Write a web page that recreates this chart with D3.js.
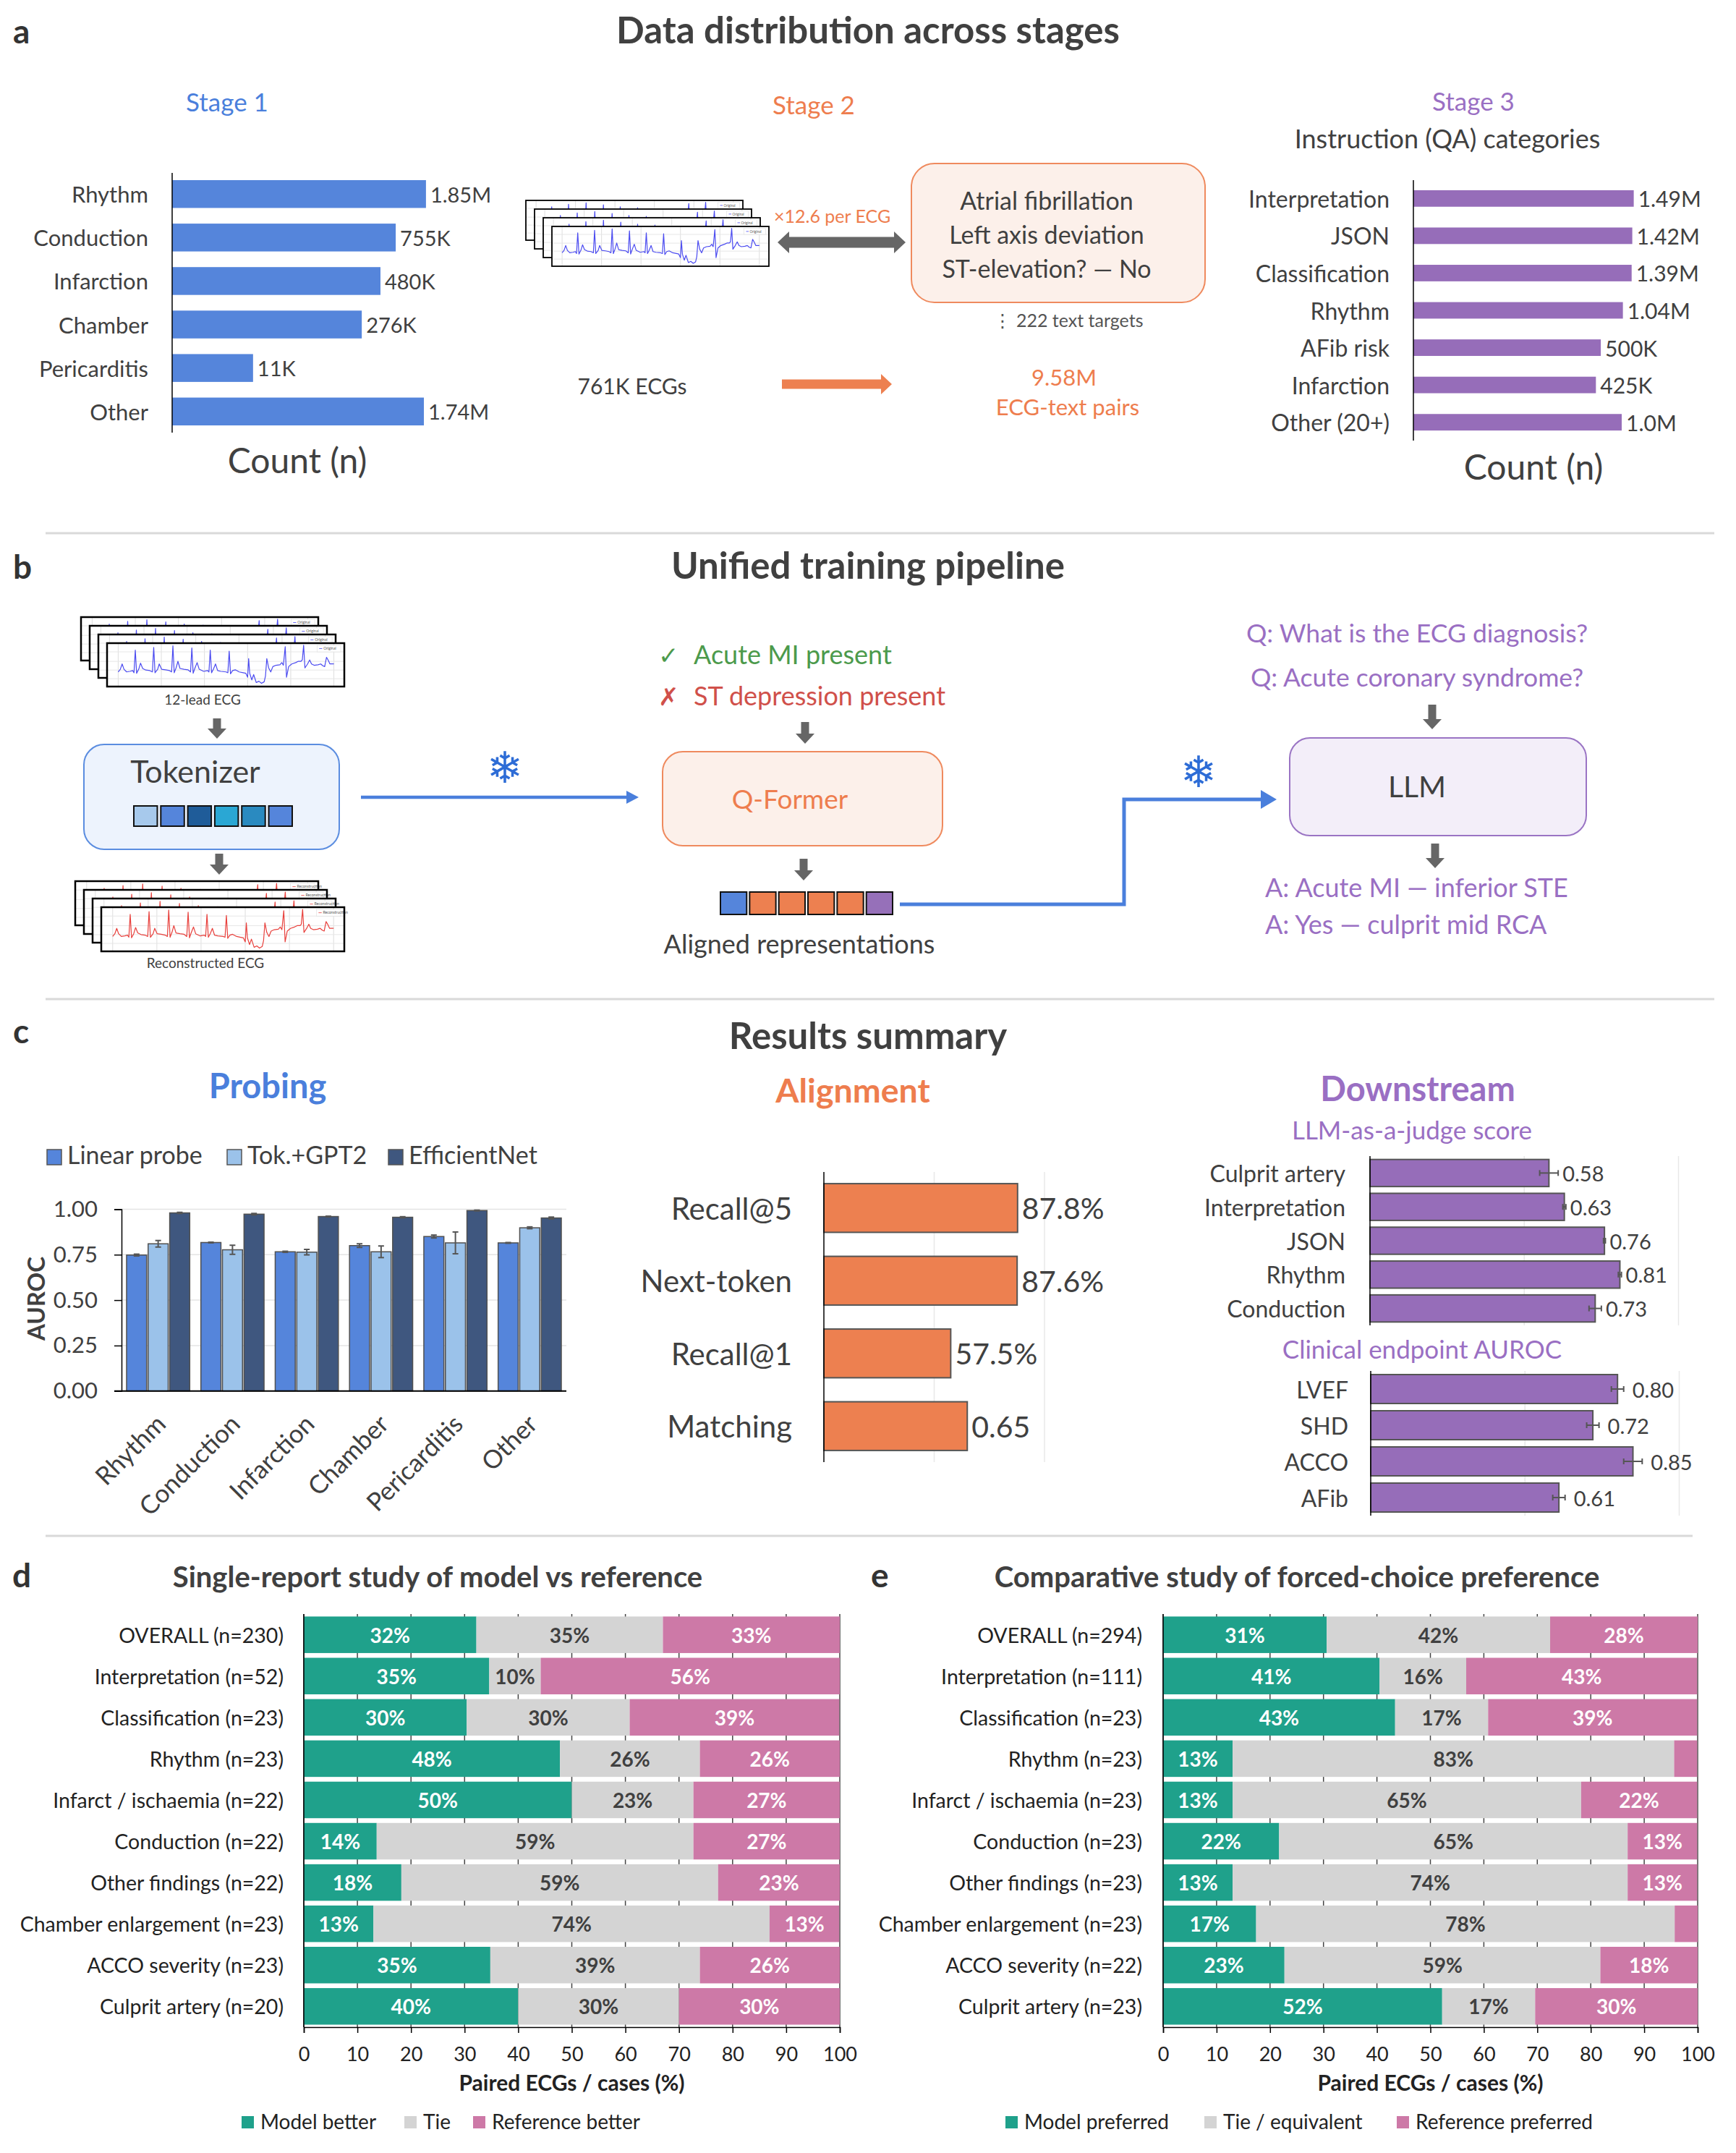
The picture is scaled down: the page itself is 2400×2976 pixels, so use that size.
<!DOCTYPE html>
<html><head><meta charset="utf-8">
<script src="https://cdn.jsdelivr.net/npm/d3@7"></script>
<style>body{margin:0;background:#fff}svg{display:block}</style>
</head><body>
<svg id="fig" width="2400" height="2976" xmlns="http://www.w3.org/2000/svg"></svg>
<script>
// ================= DATA =================
const stage1Categories = ["Rhythm","Conduction","Infarction","Chamber","Pericarditis","Other"];
const stage1Counts = [1850000,755000,480000,276000,11000,1740000];
const stage1Labels = ["1.85M","755K","480K","276K","11K","1.74M"];

const stage2Examples = ["Atrial fibrillation","Left axis deviation","ST-elevation? — No"];

const stage3Categories = ["Interpretation","JSON","Classification","Rhythm","AFib risk","Infarction","Other (20+)"];
const stage3Counts = [1490000,1420000,1390000,1040000,500000,425000,1000000];
const stage3Labels = ["1.49M","1.42M","1.39M","1.04M","500K","425K","1.0M"];

// illustrative ECG strip (time units, amplitude units)
const ecgTime = [0,8,15,22,32,45,55,60,65,70,78,85,93,105,120,130,135,140,150,156,165,180,195,203,208,213,220,227,235,250,265,275,280,285,292,300,308,325,340,345,350,355,362,370,378,390,410,417,422,427,435,445,460,475,485,492,496,500,508,515,525,535,545,555,560,565,572,580,588,600,615,622,628,635,640,648,660,675,685,695,700,705,710,720,728,735,745,760,770,778,785,792,798,805,815,820];
const ecgAmp = [-5,5,25,5,-5,-3,0,-8,77,-10,5,28,8,2,0,-5,87,-8,5,25,5,3,0,-5,93,-8,10,35,8,5,3,-5,85,-10,10,30,5,-3,0,-5,77,-8,5,25,0,-3,-5,-8,73,-12,0,3,-5,-8,-10,-25,45,-10,-35,-15,-45,-40,-48,-42,-20,45,10,-5,15,20,22,30,20,90,-25,15,25,30,35,35,40,95,10,25,40,25,20,22,25,18,15,50,40,25,25,25];

const tokenizerTokens = ["#a7c9ec","#5585db","#1f5c99","#2aa7d4","#2a8ac0","#5585db"];
const alignedTokens = ["#5585db","#ed8050","#ed8050","#ed8050","#ed8050","#9670b9"];

const probeCategories = ["Rhythm","Conduction","Infarction","Chamber","Pericarditis","Other"];
const probeSeries = ["Linear probe","Tok.+GPT2","EfficientNet"];
const probeLinear = [0.748,0.817,0.766,0.800,0.850,0.815];
const probeLinearErr = [0.005,0.002,0.003,0.010,0.008,0.002];
const probeTokGPT2 = [0.810,0.777,0.764,0.766,0.815,0.898];
const probeTokGPT2Err = [0.018,0.025,0.015,0.032,0.060,0.005];
const probeEfficientNet = [0.980,0.973,0.960,0.956,0.993,0.952];
const probeEfficientNetErr = [0.003,0.004,0.002,0.003,0.002,0.005];
const probeTicks = [0,0.25,0.5,0.75,1.0];

const alignMetrics = ["Recall@5","Next-token","Recall@1","Matching"];
const alignValues = [87.8,87.6,57.5,65];
const alignLabels = ["87.8%","87.6%","57.5%","0.65"];

const judgeCategories = ["Culprit artery","Interpretation","JSON","Rhythm","Conduction"];
const judgeScores = [0.58,0.63,0.76,0.81,0.73];
const judgeErr = [0.03,0.005,0.003,0.005,0.02];

const clinicalCategories = ["LVEF","SHD","ACCO","AFib"];
const clinicalAuroc = [0.80,0.72,0.85,0.61];
const clinicalErr = [0.02,0.02,0.03,0.02];

const studyDCategories = ["OVERALL (n=230)","Interpretation (n=52)","Classification (n=23)","Rhythm (n=23)","Infarct / ischaemia (n=22)","Conduction (n=22)","Other findings (n=22)","Chamber enlargement (n=23)","ACCO severity (n=23)","Culprit artery (n=20)"];
const studyDModel = [32.2,34.6,30.4,47.8,50.0,13.6,18.2,13.0,34.8,40.0];
const studyDTie   = [34.8, 9.6,30.4,26.1,22.7,59.1,59.1,73.9,39.1,30.0];
const studyDRef   = [33.0,55.8,39.1,26.1,27.3,27.3,22.7,13.0,26.1,30.0];
const studyDLegend = ["Model better","Tie","Reference better"];

const studyECategories = ["OVERALL (n=294)","Interpretation (n=111)","Classification (n=23)","Rhythm (n=23)","Infarct / ischaemia (n=23)","Conduction (n=23)","Other findings (n=23)","Chamber enlargement (n=23)","ACCO severity (n=22)","Culprit artery (n=23)"];
const studyEModel = [30.6,40.5,43.4,13.0,13.0,21.7,13.0,17.4,22.7,52.2];
const studyETie   = [41.8,16.2,17.4,82.6,65.2,65.2,73.9,78.3,59.1,17.4];
const studyERef   = [27.6,43.2,39.1, 4.3,21.7,13.0,13.0, 4.3,18.2,30.4];
const studyELegend = ["Model preferred","Tie / equivalent","Reference preferred"];
const percentTicks = [0,10,20,30,40,50,60,70,80,90,100];

// ================= STYLE =================
const FONT = "Lato, 'Open Sans', 'DejaVu Sans', sans-serif";
const DARK = "#404040";
const BLUE = "#5585db", BLUE_T = "#4a7fdc", ORANGE = "#ed8050", ORANGE_T = "#ee7d4e";
const PURPLE = "#966db9", PURPLE_T = "#9a6fc3";
const TEAL = "#1fa18b", GREY = "#d4d4d4", PINK = "#cd79a7";

const svg = d3.select("#fig");
svg.append("rect").attr("width",2400).attr("height",2976).attr("fill","#fff");
const defs = svg.append("defs");
let clipCount = 0;

function txt(g, x, y, s, o = {}) {
  return g.append("text").attr("x", x).attr("y", y).text(s)
    .attr("font-family", o.family || FONT).attr("font-size", o.size || 28)
    .attr("font-weight", o.weight || 400).attr("fill", o.fill || DARK)
    .attr("text-anchor", o.anchor || "start")
    .attr("dominant-baseline", o.base || null);
}
function blockArrowV(g, cx, y1, y2, color = "#666", shaft = 11, head = 26, headL = 14) {
  const p = d3.path();
  p.moveTo(cx - shaft/2, y1); p.lineTo(cx + shaft/2, y1); p.lineTo(cx + shaft/2, y2 - headL);
  p.lineTo(cx + head/2, y2 - headL); p.lineTo(cx, y2); p.lineTo(cx - head/2, y2 - headL);
  p.lineTo(cx - shaft/2, y2 - headL); p.closePath();
  g.append("path").attr("d", p.toString()).attr("fill", color);
}
function blockArrowH(g, x1, x2, cy, color, shaft, head, headL, double) {
  const p = d3.path();
  const xa = double ? x1 + headL : x1;
  p.moveTo(xa, cy - shaft/2); p.lineTo(x2 - headL, cy - shaft/2); p.lineTo(x2 - headL, cy - head/2);
  p.lineTo(x2, cy); p.lineTo(x2 - headL, cy + head/2); p.lineTo(x2 - headL, cy + shaft/2);
  p.lineTo(xa, cy + shaft/2);
  if (double) { p.lineTo(xa, cy + head/2); p.lineTo(x1, cy); p.lineTo(xa, cy - head/2); }
  p.closePath();
  g.append("path").attr("d", p.toString()).attr("fill", color);
}
function lineArrow(g, pts, color, width, headL, headH) {
  const last = pts[pts.length - 1];
  const line = pts.slice(0, -1).concat([[last[0] - headL + 2, last[1]]]);
  g.append("path").attr("d", d3.line()(line)).attr("fill", "none")
    .attr("stroke", color).attr("stroke-width", width);
  g.append("path").attr("d", d3.line()([[last[0] - headL, last[1] - headH/2],[last[0], last[1]],[last[0] - headL, last[1] + headH/2]]) + "Z")
    .attr("fill", color);
}
function roundBox(g, x1, y1, x2, y2, fill, stroke, r = 28) {
  g.append("rect").attr("x", x1).attr("y", y1).attr("width", x2 - x1).attr("height", y2 - y1)
    .attr("rx", r).attr("ry", r).attr("fill", fill).attr("stroke", stroke).attr("stroke-width", 2);
}
function ecgStack(g, x0, y0, w, h, off, color, legend, border) {
  [0,1,2,3].forEach(i => {
    const cx = x0 + i*off, cy = y0 + i*off;
    const id = "ecgclip" + (clipCount++);
    defs.append("clipPath").attr("id", id).append("rect")
      .attr("x", cx).attr("y", cy).attr("width", w).attr("height", h);
    const card = g.append("g");
    card.append("rect").attr("x", cx).attr("y", cy).attr("width", w).attr("height", h).attr("fill", "#fff");
    const inner = card.append("g").attr("clip-path", `url(#${id})`);
    const xs = d3.scaleLinear().domain([0, 820]).range([cx + 0.047*w, cx + 0.956*w]);
    const ys = d3.scaleLinear().domain([0, 163]).range([cy + 0.632*h, cy + 0.632*h - h]);
    d3.range(0, 821, 164).forEach(t => inner.append("line")
      .attr("x1", xs(t)).attr("x2", xs(t)).attr("y1", cy).attr("y2", cy + h)
      .attr("stroke", "#dedede").attr("stroke-width", 1));
    [0.2, 0.42, 0.62, 0.82].forEach(f => inner.append("line")
      .attr("x1", cx).attr("x2", cx + w).attr("y1", cy + f*h).attr("y2", cy + f*h)
      .attr("stroke", "#e6e6e6").attr("stroke-width", 1));
    inner.append("path").datum(ecgTime.map((t, k) => [t, ecgAmp[k]]))
      .attr("d", d3.line().x(d => xs(d[0])).y(d => ys(d[1])))
      .attr("fill", "none").attr("stroke", color).attr("stroke-width", 1.2).attr("stroke-linejoin", "round");
    const lx = cx + 0.885*w, ly = cy + 0.05*h, lw = 0.1*w, lh = 0.15*h;
    card.append("rect").attr("x", lx).attr("y", ly).attr("width", lw).attr("height", lh)
      .attr("fill", "#fff").attr("stroke", "#ddd").attr("stroke-width", 0.6);
    card.append("line").attr("x1", lx + 3).attr("x2", lx + 0.22*lw).attr("y1", ly + lh/2).attr("y2", ly + lh/2)
      .attr("stroke", color).attr("stroke-width", 0.8);
    card.append("text").attr("x", lx + 0.27*lw).attr("y", ly + lh/2).attr("dy", "0.35em")
      .attr("font-size", Math.max(4, h*0.085)).attr("font-family", FONT).attr("fill", "#555").text(legend);
    card.append("rect").attr("x", cx).attr("y", cy).attr("width", w).attr("height", h)
      .attr("fill", "none").attr("stroke", "#000").attr("stroke-width", border);
  });
}
function divider(y, x1, x2) {
  svg.append("line").attr("x1", x1).attr("x2", x2).attr("y1", y).attr("y2", y)
    .attr("stroke", "#d9d9d9").attr("stroke-width", 3);
}

// ================= PANEL A =================
const pa = svg.append("g");
txt(pa, 18, 60, "a", {size: 46, weight: 700, fill: "#333"});
txt(pa, 1200, 60, "Data distribution across stages", {size: 51, weight: 700, anchor: "middle"});

// Stage 1
txt(pa, 314, 154, "Stage 1", {size: 35, fill: BLUE_T, anchor: "middle"});
const s1Y = d3.scaleBand().domain(stage1Categories).range([239, 598]).paddingInner(0.36).paddingOuter(0.166);
const s1X = d3.scaleLog().domain([1e3, 1e7]).range([238, 238 + 4*107.4]);
pa.selectAll(".s1bar").data(stage1Categories).join("rect").attr("class", "s1bar")
  .attr("x", s1X(1e3)).attr("y", d => s1Y(d)).attr("height", s1Y.bandwidth())
  .attr("width", (d, i) => s1X(stage1Counts[i]) - s1X(1e3)).attr("fill", BLUE);
pa.append("line").attr("x1", 238).attr("x2", 238).attr("y1", 239).attr("y2", 598).attr("stroke", "#000").attr("stroke-width", 1.5);
stage1Categories.forEach((c, i) => {
  const yc = s1Y(c) + s1Y.bandwidth()/2;
  txt(pa, 205, yc, c, {size: 31, anchor: "end", base: "central"});
  txt(pa, s1X(stage1Counts[i]) + 6, yc, stage1Labels[i], {size: 29, base: "central"});
});
txt(pa, 411, 654, "Count (n)", {size: 48, anchor: "middle"});

// Stage 2
txt(pa, 1125, 158, "Stage 2", {size: 35, fill: ORANGE_T, anchor: "middle"});
ecgStack(pa, 727, 277, 300, 55, 12, "#4b4bf0", "Original", 1.8);
txt(pa, 1070, 308, "×12.6 per ECG", {size: 25, fill: ORANGE_T});
blockArrowH(pa, 1075, 1252, 335, "#666", 15, 30, 16, true);
roundBox(pa, 1260, 226, 1666, 418, "#fcf0ea", "#ef8a5e", 32);
stage2Examples.forEach((s, i) => txt(pa, 1447, 290 + i*47, s, {size: 34, anchor: "middle"}));
txt(pa, 1477, 452, "⋮ 222 text targets", {size: 25, anchor: "middle", fill: "#555"});
txt(pa, 874, 545, "761K ECGs", {size: 30, anchor: "middle"});
blockArrowH(pa, 1081, 1233, 531, ORANGE, 13, 28, 15, false);
txt(pa, 1471, 533, "9.58M", {size: 31, anchor: "middle", fill: ORANGE_T});
txt(pa, 1476, 574, "ECG-text pairs", {size: 31, anchor: "middle", fill: ORANGE_T});

// Stage 3
txt(pa, 2037, 153, "Stage 3", {size: 35, fill: PURPLE_T, anchor: "middle"});
txt(pa, 2001, 205, "Instruction (QA) categories", {size: 36, anchor: "middle"});
const s3Y = d3.scaleBand().domain(stage3Categories).range([249, 609]).paddingInner(0.557).paddingOuter(0.27);
const s3X = d3.scaleLog().domain([1e3, 1e7]).range([1954, 1954 + 4*96]);
pa.selectAll(".s3bar").data(stage3Categories).join("rect").attr("class", "s3bar")
  .attr("x", s3X(1e3)).attr("y", d => s3Y(d)).attr("height", s3Y.bandwidth())
  .attr("width", (d, i) => s3X(stage3Counts[i]) - s3X(1e3)).attr("fill", PURPLE);
pa.append("line").attr("x1", 1954).attr("x2", 1954).attr("y1", 249).attr("y2", 609).attr("stroke", "#000").attr("stroke-width", 1.5);
stage3Categories.forEach((c, i) => {
  const yc = s3Y(c) + s3Y.bandwidth()/2;
  txt(pa, 1921, yc, c, {size: 32, anchor: "end", base: "central"});
  txt(pa, s3X(stage3Counts[i]) + 6, yc, stage3Labels[i], {size: 30, base: "central"});
});
txt(pa, 2120, 663, "Count (n)", {size: 48, anchor: "middle"});

divider(737, 63, 2370);

// ================= PANEL B =================
const pb = svg.append("g");
txt(pb, 18, 800, "b", {size: 46, weight: 700, fill: "#333"});
txt(pb, 1200, 800, "Unified training pipeline", {size: 51, weight: 700, anchor: "middle"});

ecgStack(pb, 112, 853, 328, 60, 12, "#4b4bf0", "Original", 2.5);
txt(pb, 280, 974, "12-lead ECG", {size: 19, anchor: "middle"});
blockArrowV(pb, 300, 993, 1021);
roundBox(pb, 116, 1029, 469, 1174, "#edf3fd", "#5b8de0", 28);
txt(pb, 270, 1082, "Tokenizer", {size: 43, anchor: "middle"});
const tokX = d3.scaleBand().domain(d3.range(tokenizerTokens.length)).range([185, 404]).paddingInner(0.13);
pb.selectAll(".tok").data(tokenizerTokens).join("rect").attr("class", "tok")
  .attr("x", (d, i) => tokX(i)).attr("y", 1114).attr("width", tokX.bandwidth()).attr("height", 28)
  .attr("fill", d => d).attr("stroke", "#111").attr("stroke-width", 2);
blockArrowV(pb, 303, 1180, 1209);
ecgStack(pb, 104, 1218, 336, 61, 12, "#e8403c", "Reconstruction", 2.5);
txt(pb, 284, 1338, "Reconstructed ECG", {size: 19, anchor: "middle"});

lineArrow(pb, [[499, 1102], [883, 1102]], "#4a7fdc", 4.5, 17, 18);
txt(pb, 698, 1061, "❄", {size: 60, anchor: "middle", base: "central", fill: "#2d6cd6", family: "'DejaVu Sans', sans-serif"});

txt(pb, 910, 918, "✓", {size: 34, fill: "#4c9a4c", family: "'DejaVu Sans', sans-serif"});
txt(pb, 959, 918, "Acute MI present", {size: 36, fill: "#4c9a4c"});
txt(pb, 910, 975, "✗", {size: 34, fill: "#d0504a", family: "'DejaVu Sans', sans-serif"});
txt(pb, 959, 975, "ST depression present", {size: 36, fill: "#d0504a"});
blockArrowV(pb, 1113, 998, 1028);
roundBox(pb, 916, 1039, 1303, 1169, "#fcf0ea", "#ef8a5e", 28);
txt(pb, 1092, 1118, "Q-Former", {size: 37, anchor: "middle", fill: ORANGE_T});
blockArrowV(pb, 1111, 1187, 1217);
const alX = d3.scaleBand().domain(d3.range(alignedTokens.length)).range([996, 1234]).paddingInner(0.1);
pb.selectAll(".altok").data(alignedTokens).join("rect").attr("class", "altok")
  .attr("x", (d, i) => alX(i)).attr("y", 1233).attr("width", alX.bandwidth()).attr("height", 31)
  .attr("fill", d => d).attr("stroke", "#111").attr("stroke-width", 2);
txt(pb, 1105, 1318, "Aligned representations", {size: 36, anchor: "middle"});

lineArrow(pb, [[1244, 1250], [1554, 1250], [1554, 1105], [1765, 1105]], "#4a7fdc", 5, 22, 26);
txt(pb, 1657, 1067, "❄", {size: 60, anchor: "middle", base: "central", fill: "#2d6cd6", family: "'DejaVu Sans', sans-serif"});

txt(pb, 1959, 888, "Q: What is the ECG diagnosis?", {size: 35.5, anchor: "middle", fill: PURPLE_T});
txt(pb, 1959, 949, "Q: Acute coronary syndrome?", {size: 35.5, anchor: "middle", fill: PURPLE_T});
blockArrowV(pb, 1980, 974, 1008);
roundBox(pb, 1783, 1020, 2193, 1155, "#f3eef9", "#9a74c4", 28);
txt(pb, 1959, 1102, "LLM", {size: 41, anchor: "middle"});
blockArrowV(pb, 1984, 1166, 1200);
txt(pb, 1749, 1240, "A: Acute MI — inferior STE", {size: 36, fill: PURPLE_T});
txt(pb, 1749, 1291, "A: Yes — culprit mid RCA", {size: 36, fill: PURPLE_T});

divider(1381, 63, 2370);

// ================= PANEL C =================
const pc = svg.append("g");
txt(pc, 18, 1442, "c", {size: 46, weight: 700, fill: "#333"});
txt(pc, 1200, 1450, "Results summary", {size: 51, weight: 700, anchor: "middle"});

// Probing
txt(pc, 370, 1518, "Probing", {size: 47, weight: 700, anchor: "middle", fill: BLUE_T});
const probeColors = [BLUE, "#9bc2ea", "#3f577f"];
const legX = [65, 314, 537];
probeSeries.forEach((s, i) => {
  pc.append("rect").attr("x", legX[i]).attr("y", 1589).attr("width", 20).attr("height", 21)
    .attr("fill", probeColors[i]).attr("stroke", "#555").attr("stroke-width", 1.5);
  txt(pc, legX[i] + 28, 1609, s, {size: 34});
});
const probeY = d3.scaleLinear().domain([0, 1]).range([1922.7, 1671.5]);
const probeX0 = d3.scaleBand().domain(probeCategories).range([168, 783]).paddingInner(0.15).paddingOuter(0.068);
const probeX1 = d3.scaleBand().domain(probeSeries).range([0, probeX0.bandwidth()]).paddingInner(0.07);
probeTicks.filter(t => t > 0).forEach(t => pc.append("line")
  .attr("x1", 168).attr("x2", 783).attr("y1", probeY(t)).attr("y2", probeY(t))
  .attr("stroke", "#e4e4e4").attr("stroke-width", 1.5));
const probeData = [[probeLinear, probeLinearErr], [probeTokGPT2, probeTokGPT2Err], [probeEfficientNet, probeEfficientNetErr]];
probeCategories.forEach((c, ci) => {
  probeSeries.forEach((s, si) => {
    const v = probeData[si][0][ci], e = probeData[si][1][ci];
    const x = probeX0(c) + probeX1(s), w = probeX1.bandwidth();
    pc.append("rect").attr("x", x).attr("y", probeY(v)).attr("width", w).attr("height", probeY(0) - probeY(v))
      .attr("fill", probeColors[si]).attr("stroke", "#505050").attr("stroke-width", 1.5);
    const xm = x + w/2;
    pc.append("line").attr("x1", xm).attr("x2", xm).attr("y1", probeY(v - e)).attr("y2", probeY(v + e)).attr("stroke", "#555").attr("stroke-width", 2);
    [v - e, v + e].forEach(b => pc.append("line").attr("x1", xm - 4).attr("x2", xm + 4).attr("y1", probeY(b)).attr("y2", probeY(b)).attr("stroke", "#555").attr("stroke-width", 2));
  });
  pc.append("text").attr("transform", `translate(${probeX0(c) + probeX0.bandwidth()/2 + 4},${1962}) rotate(-45)`)
    .attr("text-anchor", "end").attr("dy", "0.35em").attr("font-family", FONT).attr("font-size", 35)
    .attr("fill", DARK).text(c);
});
const probeAxis = pc.append("g").attr("transform", "translate(168,0)")
  .call(d3.axisLeft(probeY).tickValues(probeTicks).tickFormat(d3.format(".2f")).tickSize(10).tickPadding(23));
probeAxis.select(".domain").attr("stroke", "#000").attr("stroke-width", 1.5);
probeAxis.selectAll(".tick line").attr("stroke", "#000").attr("stroke-width", 1.5);
probeAxis.selectAll("text").attr("font-family", FONT).attr("font-size", 31).attr("fill", DARK);
pc.append("line").attr("x1", 158).attr("x2", 783).attr("y1", probeY(0)).attr("y2", probeY(0)).attr("stroke", "#000").attr("stroke-width", 2);
pc.append("text").attr("transform", "translate(62,1795) rotate(-90)").attr("text-anchor", "middle")
  .attr("font-family", FONT).attr("font-size", 33).attr("font-weight", 700).attr("fill", DARK).text("AUROC");

// Alignment
txt(pc, 1179, 1524, "Alignment", {size: 46.5, weight: 700, anchor: "middle", fill: ORANGE_T});
const alignX = d3.scaleLinear().domain([0, 100]).range([1139, 1444]);
const alignY = d3.scaleBand().domain(alignMetrics).range([1620, 2021]).paddingInner(0.33).paddingOuter(0.16);
[50, 100].forEach(t => pc.append("line").attr("x1", alignX(t)).attr("x2", alignX(t)).attr("y1", 1620).attr("y2", 2021)
  .attr("stroke", "#e8e8e8").attr("stroke-width", 1.5));
alignMetrics.forEach((m, i) => {
  const y = alignY(m), h = alignY.bandwidth();
  pc.append("rect").attr("x", alignX(0)).attr("y", y).attr("width", alignX(alignValues[i]) - alignX(0)).attr("height", h)
    .attr("fill", ORANGE).attr("stroke", "#555").attr("stroke-width", 2);
  txt(pc, 1095, y + h/2, m, {size: 42, anchor: "end", base: "central"});
  txt(pc, alignX(alignValues[i]) + 6, y + h/2, alignLabels[i], {size: 41, base: "central"});
});
pc.append("line").attr("x1", 1139).attr("x2", 1139).attr("y1", 1620).attr("y2", 2021).attr("stroke", "#000").attr("stroke-width", 1.5);

// Downstream
txt(pc, 1960, 1522, "Downstream", {size: 47, weight: 700, anchor: "middle", fill: PURPLE_T});
txt(pc, 1952, 1575, "LLM-as-a-judge score", {size: 35, anchor: "middle", fill: PURPLE_T});
txt(pc, 1966, 1878, "Clinical endpoint AUROC", {size: 35, anchor: "middle", fill: PURPLE_T});
function hbarChart(cats, vals, errs, x0, y0, y1, pin, pout, labelX, gapLabel) {
  const X = d3.scaleLinear().domain([0, 1]).range([x0, x0 + 426.5]);
  const Y = d3.scaleBand().domain(cats).range([y0, y1]).paddingInner(pin).paddingOuter(pout);
  [0.5, 1].forEach(t => pc.append("line").attr("x1", X(t)).attr("x2", X(t)).attr("y1", y0).attr("y2", y1)
    .attr("stroke", "#e8e8e8").attr("stroke-width", 1.5));
  cats.forEach((c, i) => {
    const y = Y(c), h = Y.bandwidth(), v = vals[i], e = errs[i];
    pc.append("rect").attr("x", X(0)).attr("y", y).attr("width", X(v) - X(0)).attr("height", h)
      .attr("fill", PURPLE).attr("stroke", "#555").attr("stroke-width", 2);
    const ym = y + h/2;
    pc.append("line").attr("x1", X(v - e)).attr("x2", X(v + e)).attr("y1", ym).attr("y2", ym).attr("stroke", "#555").attr("stroke-width", 2);
    [v - e, v + e].forEach(b => pc.append("line").attr("x1", X(b)).attr("x2", X(b)).attr("y1", ym - 4).attr("y2", ym + 4).attr("stroke", "#555").attr("stroke-width", 2));
    txt(pc, labelX, ym, c, {size: 32, anchor: "end", base: "central"});
    txt(pc, X(v + e) + gapLabel, ym, d3.format(".2f")(v), {size: 29, base: "central"});
  });
  pc.append("line").attr("x1", x0).attr("x2", x0).attr("y1", y0).attr("y2", y1).attr("stroke", "#000").attr("stroke-width", 1.5);
}
hbarChart(judgeCategories, judgeScores, judgeErr, 1894, 1598, 1832, 0.2, 0.1, 1860, 6);
hbarChart(clinicalCategories, clinicalAuroc, clinicalErr, 1895, 1895, 2095, 0.2, 0.1, 1864, 12);

divider(2123, 63, 2340);

// ================= PANELS D & E =================
function stackedPanel(letterX, letter, title, titleX, cats, model, tie, ref, x0, x1, labelX, legendNames, legX) {
  const g = svg.append("g");
  txt(g, letterX, 2194, letter, {size: 46, weight: 700, fill: "#333"});
  txt(g, titleX, 2194, title, {size: 40, weight: 700, anchor: "middle"});
  const X = d3.scaleLinear().domain([0, 100]).range([x0, x1]);
  const Y = d3.scaleBand().domain(cats).range([2231, 2802]).paddingInner(0.115).paddingOuter(0.06);
  percentTicks.forEach(t => g.append("line").attr("x1", X(t)).attr("x2", X(t)).attr("y1", 2231).attr("y2", 2802)
    .attr("stroke", "#444").attr("stroke-width", 1.5));
  const colors = [TEAL, GREY, PINK];
  const textCol = ["#fff", DARK, "#fff"];
  cats.forEach((c, i) => {
    const segs = [model[i], tie[i], ref[i]];
    let acc = 0;
    segs.forEach((v, k) => {
      const a = acc, b = Math.min(100, acc + v);
      g.append("rect").attr("x", X(a)).attr("y", Y(c)).attr("width", X(b) - X(a)).attr("height", Y.bandwidth()).attr("fill", colors[k]);
      if (v >= 6) txt(g, (X(a) + X(b))/2, Y(c) + Y.bandwidth()/2, Math.round(v) + "%",
        {size: 28, weight: 700, anchor: "middle", base: "central", fill: textCol[k]});
      acc += v;
    });
    txt(g, labelX, Y(c) + Y.bandwidth()/2, c, {size: 28.5, anchor: "end", base: "central", fill: "#222"});
  });
  g.append("line").attr("x1", X(0)).attr("x2", X(0)).attr("y1", 2231).attr("y2", 2802).attr("stroke", "#000").attr("stroke-width", 1.5);
  const ax = g.append("g").attr("transform", "translate(0,2802)")
    .call(d3.axisBottom(X).tickValues(percentTicks).tickFormat(d3.format("d")).tickSize(8).tickPadding(20));
  ax.select(".domain").attr("stroke", "#000").attr("stroke-width", 1.5);
  ax.selectAll(".tick line").attr("stroke", "#000").attr("stroke-width", 1.5);
  ax.selectAll("text").attr("font-family", FONT).attr("font-size", 27).attr("fill", "#222");
  txt(g, (x0 + x1)/2, 2890, "Paired ECGs / cases (%)", {size: 30, weight: 700, anchor: "middle", fill: "#222"});
  legendNames.forEach((n, k) => {
    g.append("rect").attr("x", legX[k]).attr("y", 2925).attr("width", 17).attr("height", 17).attr("fill", colors[k]);
    txt(g, legX[k] + 26, 2943, n, {size: 28, fill: "#222"});
  });
}
stackedPanel(17, "d", "Single-report study of model vs reference", 605, studyDCategories,
  studyDModel, studyDTie, studyDRef, 420, 1161, 392, studyDLegend, [334, 559, 654]);
stackedPanel(1204, "e", "Comparative study of forced-choice preference", 1793, studyECategories,
  studyEModel, studyETie, studyERef, 1608, 2347, 1579, studyELegend, [1390, 1665, 1931]);
</script>
</body></html>
